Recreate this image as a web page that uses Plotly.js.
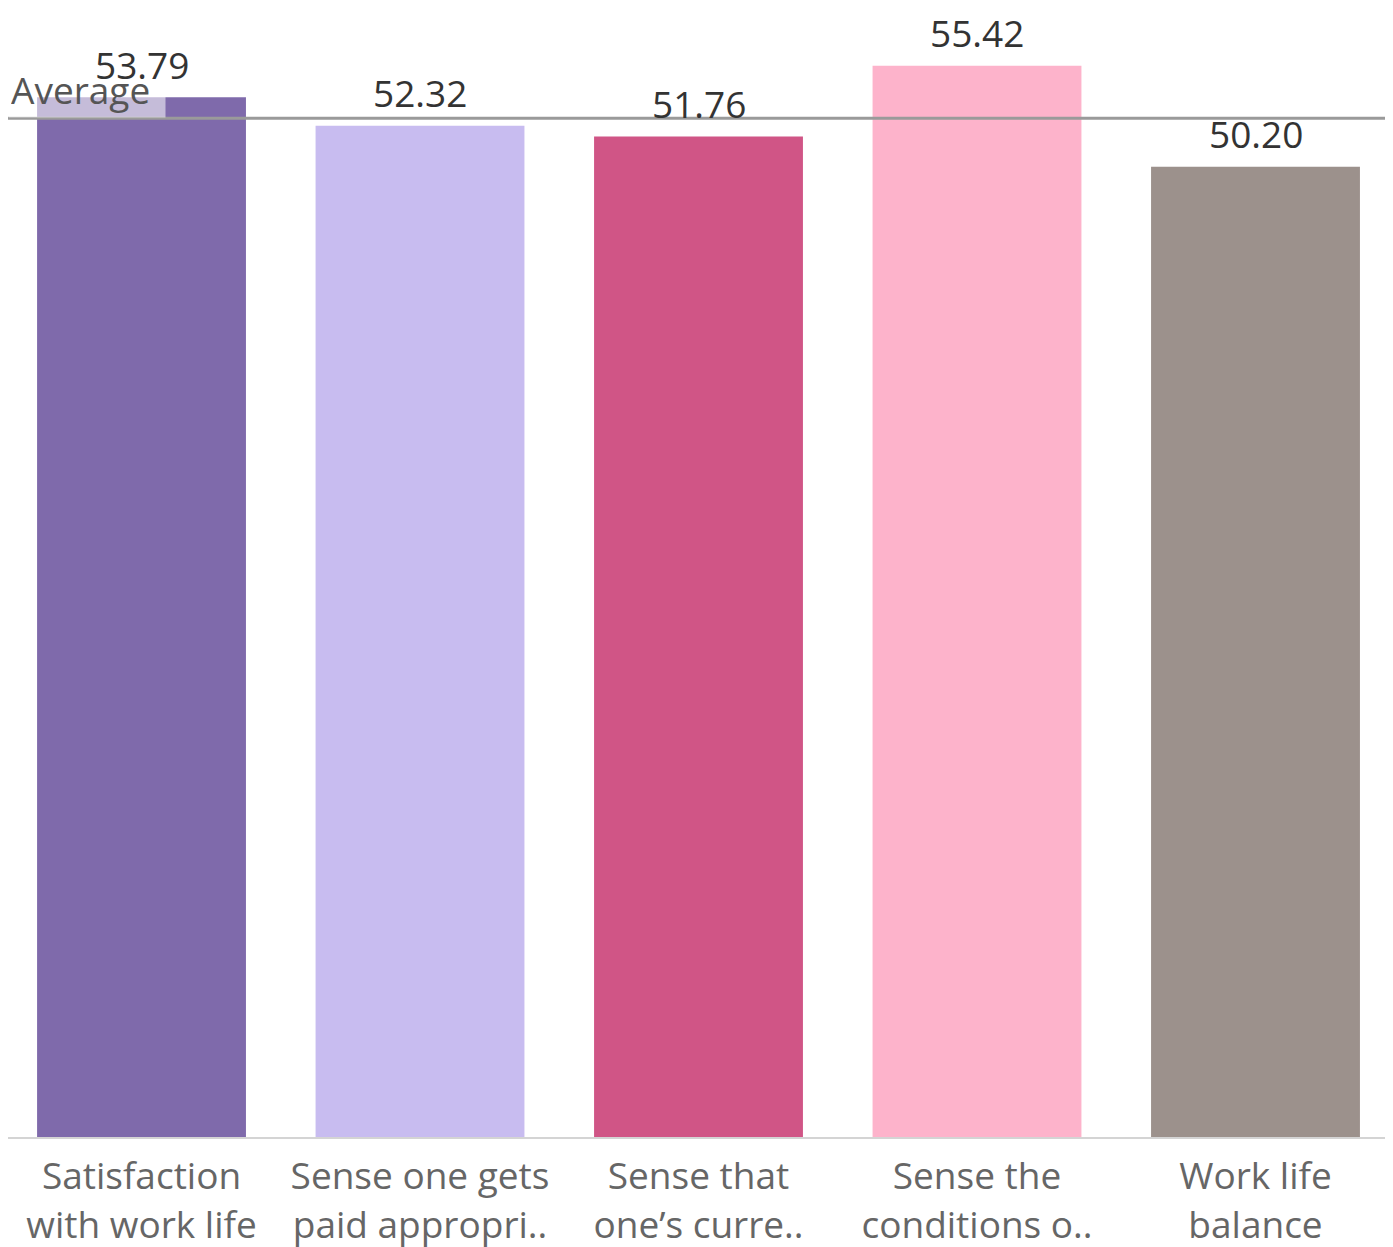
<!DOCTYPE html>
<html>
<head>
<meta charset="utf-8">
<script src="https://cdn.plot.ly/plotly-3.0.1.min.js"></script>
<style>
  html, body { margin: 0; padding: 0; background: #ffffff; }
  #chart { width: 1393px; height: 1247px; }
</style>
</head>
<body>
<div id="chart"></div>
<script>
// ---- data ----
const categories = [
  "Satisfaction with work life",
  "Sense one gets paid appropri..",
  "Sense that one’s curre..",
  "Sense the conditions o..",
  "Work life balance"
];
const tickLabels = [
  "Satisfaction<br>with work life",
  "Sense one gets<br>paid appropri..",
  "Sense that<br>one’s curre..",
  "Sense the<br>conditions o..",
  "Work life<br>balance"
];
const values = [53.79, 52.32, 51.76, 55.42, 50.20];
const barColors = ["#7f6aab", "#c8bcf0", "#d05586", "#fdb3cb", "#9c918c"];
const averageLabel = "Average";

// ---- derived ----
const avg = values.reduce((a, b) => a + b, 0) / values.length;
const FONT = "Open Sans, Lato, sans-serif";

const trace = {
  type: "bar",
  x: categories,
  y: values,
  width: 0.75,
  marker: { color: barColors, line: { width: 0 } },
  hoverinfo: "x+y"
};

const annotations = [];
// Average label with translucent background (drawn first)
annotations.push({
  xref: "paper", x: 0, xanchor: "left",
  yref: "y", y: avg, yanchor: "bottom",
  text: averageLabel,
  showarrow: false,
  align: "left",
  width: 152,
  font: { family: FONT, size: 37, color: "#555555" },
  bgcolor: "rgba(255,255,255,0.55)",
  borderpad: 2
});
// value labels
categories.forEach((c, i) => {
  annotations.push({
    x: c, y: values[i], xref: "x", yref: "y",
    text: values[i].toFixed(2),
    showarrow: false,
    yanchor: "middle",
    yshift: 33,
    font: { family: FONT, size: 37, color: "#333333" }
  });
});

const layout = {
  width: 1393,
  height: 1247,
  margin: { l: 8, r: 8, t: 0, b: 110 },
  paper_bgcolor: "#ffffff",
  plot_bgcolor: "#ffffff",
  showlegend: false,
  bargap: 0.25,
  font: { family: FONT },
  xaxis: {
    type: "category",
    range: [-0.4794, 4.465],
    tickmode: "array",
    tickvals: categories,
    ticktext: tickLabels,
    tickfont: { family: FONT, size: 37, color: "#666666" },
    ticks: "",
    showline: true,
    linecolor: "#d4d4d4",
    linewidth: 2,
    showgrid: false,
    zeroline: false,
    ticklabelstandoff: 6,
    fixedrange: true
  },
  yaxis: {
    range: [0, 58.82],
    showticklabels: false,
    showgrid: false,
    zeroline: false,
    showline: false,
    ticks: "",
    fixedrange: true
  },
  shapes: [{
    type: "line",
    xref: "paper", x0: 0, x1: 1,
    yref: "y", y0: avg, y1: avg,
    line: { color: "#9a9a9a", width: 3 },
    layer: "above"
  }],
  annotations: annotations
};

Plotly.newPlot("chart", [trace], layout, { displayModeBar: false, staticPlot: true });
</script>
</body>
</html>
